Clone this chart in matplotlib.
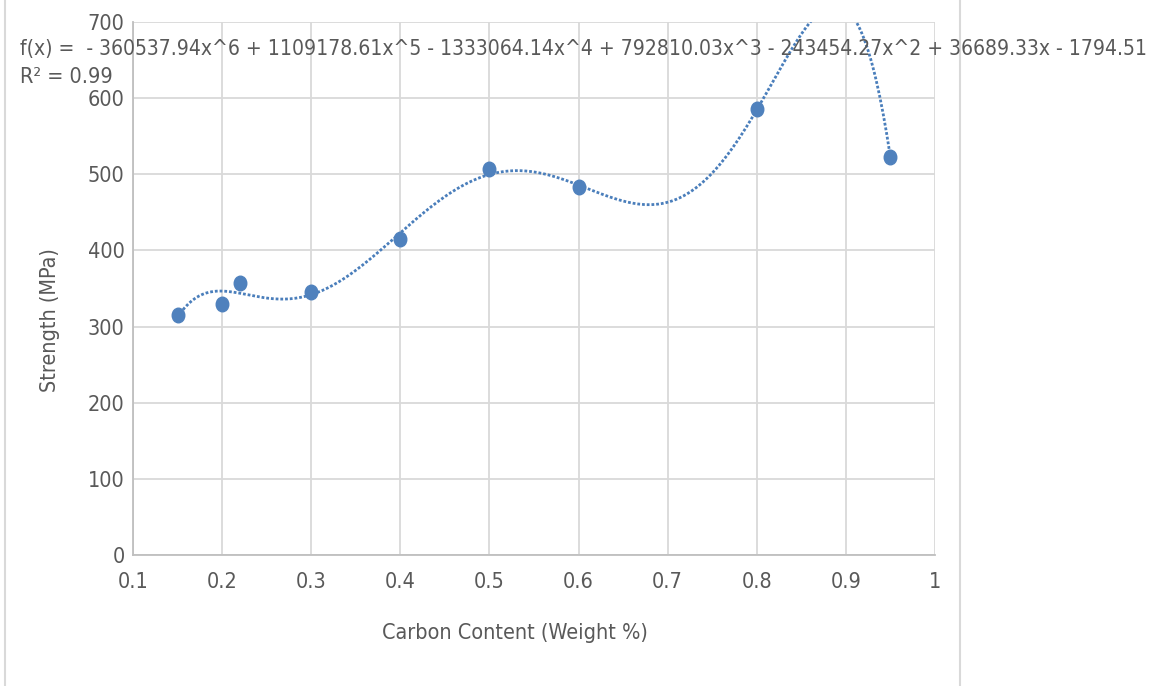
import matplotlib

matplotlib.use("Agg")
import matplotlib.pyplot as plt
import numpy as np
from matplotlib.lines import Line2D
from matplotlib.path import Path
from matplotlib.transforms import Affine2D

# measured points
carbon = [0.15, 0.20, 0.22, 0.30, 0.40, 0.50, 0.60, 0.80, 0.95]
strength = [315, 330, 357, 345, 415, 507, 483, 586, 523]

# polynomial trendline coefficients (highest power first), as printed on chart
trend_coef = [-360537.94, 1109178.61, -1333064.14, 792810.03, -243454.27, 36689.33, -1794.51]
trend_label = ("f(x) =  - 360537.94x^6 + 1109178.61x^5 - 1333064.14x^4 + 792810.03x^3"
               " - 243454.27x^2 + 36689.33x - 1794.51")
r2_label = "R² = 0.99"

x_ticks = [0.1, 0.2, 0.3, 0.4, 0.5, 0.6, 0.7, 0.8, 0.9, 1.0]
x_ticklabels = ["0.1", "0.2", "0.3", "0.4", "0.5", "0.6", "0.7", "0.8", "0.9", "1"]
y_ticks = [0, 100, 200, 300, 400, 500, 600, 700]

text_color = "#595959"
grid_color = "#d9d9d9"
point_color = "#4f81bd"
font = dict(family="DejaVu Sans", stretch="condensed", color=text_color)

W, H = 1155, 686
fig = plt.figure(figsize=(W / 100, H / 100), dpi=100)
ax = fig.add_axes([133 / W, 1 - 555 / H, (935 - 133) / W, (555 - 22) / H])

xs = np.linspace(min(carbon), max(carbon), 400)
ax.plot(xs, np.polyval(trend_coef, xs), color="#4a7ebb", linewidth=2.0,
        linestyle=(0, (1, 0.7)), dash_capstyle="butt", zorder=3)

# slightly tall ellipse marker, like the spreadsheet export
ellipse = Path.unit_circle().transformed(Affine2D().scale(0.86, 1.0))
ax.plot(carbon, strength, linestyle="none", marker=ellipse, markersize=10.5,
        color=point_color, zorder=4, clip_on=False)

ax.set_xlim(0.1, 1.0)
ax.set_ylim(0, 700)
ax.set_xticks(x_ticks)
ax.set_xticklabels(x_ticklabels, fontsize=15.5, **font)
ax.set_yticks(y_ticks)
ax.set_yticklabels([str(v) for v in y_ticks], fontsize=15.5, **font)
ax.tick_params(axis="y", length=0, pad=6)
ax.tick_params(axis="x", length=0, pad=12)
ax.grid(True, color=grid_color, linewidth=1.3)
ax.set_axisbelow(True)
for side in ["top", "right"]:
    ax.spines[side].set_visible(False)
for side in ["left", "bottom"]:
    ax.spines[side].set_color("#bfbfbf")
    ax.spines[side].set_linewidth(1.3)

fig.text(515 / W, 1 - 633 / H, "Carbon Content (Weight %)", fontsize=15.5,
         ha="center", va="center", **font)
fig.text(50 / W, 1 - 320 / H, "Strength (MPa)", fontsize=15.5, rotation=90,
         ha="center", va="center", **font)

fig.text(20 / W, 1 - 49 / H, trend_label, fontsize=15.1, va="center", ha="left", **font)
fig.text(20 / W, 1 - 77 / H, r2_label, fontsize=15.5, va="center", ha="left", **font)

for xpix in (5, 960):
    fig.add_artist(Line2D([xpix / W, xpix / W], [0, 1], transform=fig.transFigure,
                          color=grid_color, linewidth=1.5))

fig.savefig("out.png", dpi=100)
